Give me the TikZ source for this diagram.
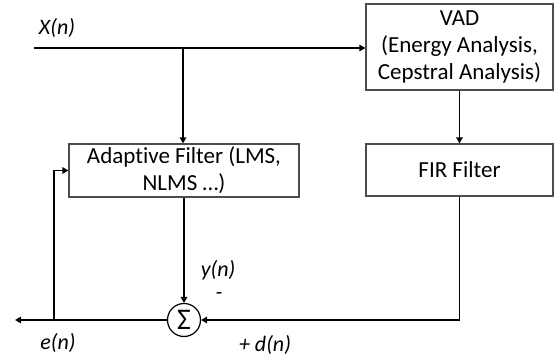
\documentclass[tikz,border=0pt]{standalone}
\usepackage{fontspec}
\setmainfont[RawFeature={-liga;-clig;-dlig;-calt}]{Carlito}
\usetikzlibrary{arrows.meta}
\begin{document}
\begin{tikzpicture}[x=1pt,y=-1pt,
  blk/.style={draw=black!70,line width=1.2pt,align=center,inner sep=0pt,font=\fontsize{23}{27}\selectfont},
  wire/.style={line width=1.8pt},
  arr/.style={wire,-{Triangle[length=6pt,width=6.5pt]}},
  lbl/.style={font=\fontsize{22}{26}\selectfont\itshape,inner sep=0pt}]
\useasboundingbox (0,0) rectangle (555,358);
\node[blk,minimum width=187pt,minimum height=86pt] (vad) at (459.5,47) {VAD\\(Energy Analysis,\\Cepstral Analysis)};
\node[blk,minimum width=187pt,minimum height=52pt] (fir) at (459.5,170) {FIR Filter};
\node[blk,minimum width=230pt,minimum height=53pt] (af) at (184,170.5) {Adaptive Filter (LMS,\\NLMS \dots)};
\node[draw=black,line width=1.2pt,circle,minimum size=33pt,inner sep=0pt,font=\fontsize{30}{30}\selectfont] (sum) at (184,320) {\raisebox{-1pt}{Σ}};
\coordinate (xin) at (34,48);
\coordinate (jx) at (183,48);
\coordinate (eout) at (15,320);
\coordinate (fb) at (54,320);
\coordinate (fbt) at (54,170.5);
\coordinate (firc) at (459.5,320);
\draw[arr] (xin) -- (vad.west |- xin);
\draw[arr] (jx) -- (jx |- af.north);
\draw[arr] (vad.south) -- (fir.north);
\draw[arr] (af.south -| sum.north) -- (sum.north);
\draw[arr] (fir.south) -- (firc) -- (sum.east);
\draw[arr] (sum.west) -- (eout);
\draw[arr] (fb) -- (fbt) -- (af.west);
\node[lbl] (lx) at (57,28) {X(n)};
\node[lbl] (ly) at (218,270) {y(n)};
\node[lbl] (lm) at (219,296) {-};
\node[lbl] (le) at (58,343) {e(n)};
\node[lbl] (ld) at (265,345) {+ d(n)};
\end{tikzpicture}
\end{document}
